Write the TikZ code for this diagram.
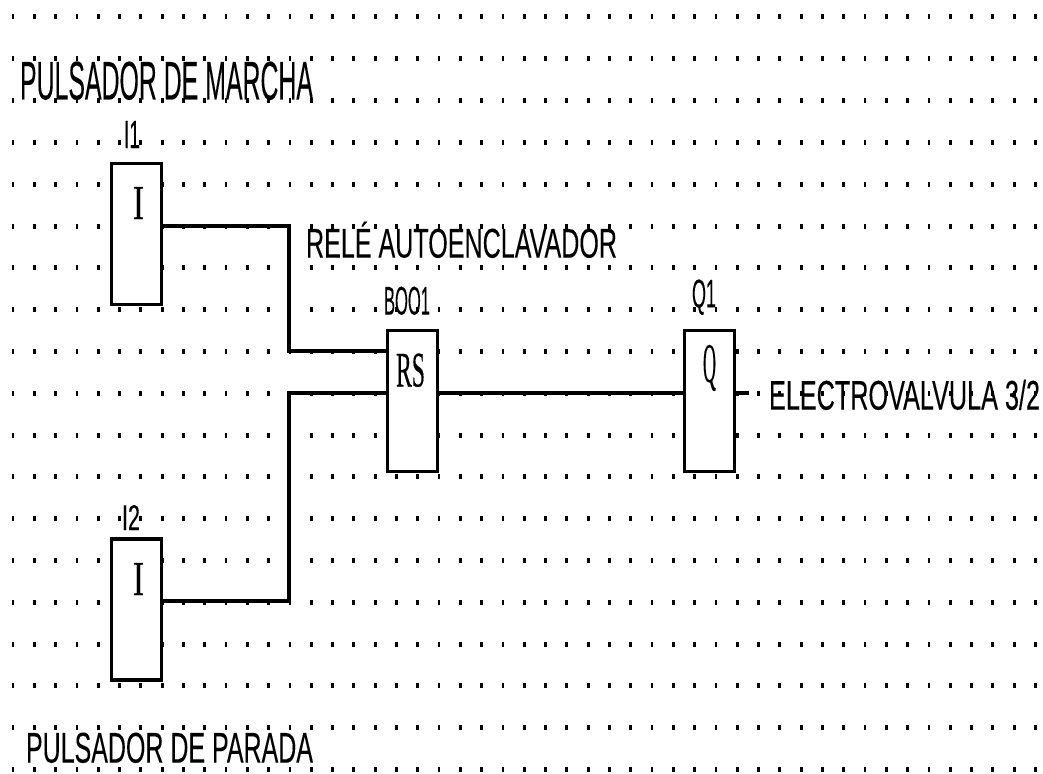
\documentclass[tikz,border=0pt]{standalone}
\usepackage{graphicx}
\usepackage{fontspec}
\setmainfont[FakeBold=0.25]{Liberation Sans}
\newfontfamily\blockfont[FakeBold=0.5]{Liberation Serif}
\tikzset{
  x=1pt,y=-1pt,
  block/.style={draw=black,fill=white,line width=2.4pt,minimum width=50pt,minimum height=141pt,inner sep=0pt,outer sep=0pt},
  blocklid/.style={line width=3.8pt,line cap=rect},
  wire/.style={draw=black,line width=3.6pt},
  lbl/.style={inner sep=0pt,outer sep=0pt,anchor=south west,text=black}
}
\newcommand{\fitted}[3]{\resizebox{#1pt}{#2pt}{#3}}
\begin{document}
\begin{tikzpicture}
\useasboundingbox (0,0) rectangle (1043,773);
\fill[white] (0,0) rectangle (1043,773);
% dot grid
\foreach \c in {0,...,48}{
  \foreach \r in {0,...,18}{
    \fill[black] ({13+21.3*\c-1.4},{17+41.8*\r-2.5}) rectangle ++(2.8,5);
  }
}
% blocks
\node[block] (i1) at (136.5,234) {};
\node[block] (i2) at (136.5,609.5) {};
\node[block] (rs) at (412.5,401) {};
\node[block] (q1) at (709.5,401) {};
\foreach \n in {i1,i2,rs,q1}{
  \draw[blocklid] (\n.north west) -- (\n.north east);
  \draw[blocklid] (\n.south west) -- (\n.south east);
}
% helper coordinates
\coordinate (a1) at (i1.east |- 0,226);
\coordinate (a2) at (289,226);
\coordinate (a3) at (289,351);
\coordinate (a4) at (rs.west |- 0,351);
\coordinate (b1) at (i2.east |- 0,601);
\coordinate (b2) at (289,601);
\coordinate (b3) at (289,393);
\coordinate (b4) at (rs.west |- 0,393);
\coordinate (c1) at (rs.east |- 0,393);
\coordinate (c2) at (q1.west |- 0,393);
\coordinate (d1) at (q1.east |- 0,393);
\coordinate (d2) at (749,393);
% connectors
\draw[wire] (a1) -- (a2) -- (a3) -- (a4);
\draw[wire] (b1) -- (b2) -- (b3) -- (b4);
\draw[wire] (c1) -- (c2);
\draw[wire] (d1) -- (d2);
% labels
\node[lbl] (t1) at (20,100) {\fitted{293}{38}{PULSADOR DE MARCHA}};
\node[lbl] (t2) at (124,148) {\fitted{16}{27}{I1}};
\node[lbl] (t3) at (306,258) {\fitted{311}{36}{RELÉ AUTOENCLAVADOR}};
\node[lbl] (t4) at (384,315) {\fitted{46}{28}{BOO1}};
\node[lbl] (t5) at (692,315) {\fitted{24}{28}{Q1}};
\node[lbl] (t6) at (122,530) {\fitted{18}{25}{I2}};
\node[lbl] (t7) at (769,410) {\fitted{271}{30}{ELECTROVALVULA 3/2}};
\node[lbl] (t8) at (26,763) {\fitted{287}{30}{PULSADOR DE PARADA}};
\node[lbl] (t9) at (133,219) {\fitted{11}{32}{\blockfont I}};
\node[lbl] (t10) at (133,595) {\fitted{11}{32}{\blockfont I}};
\node[lbl] (t11) at (396,387) {\fitted{29}{33}{\blockfont RS}};
\node[lbl] (t12) at (703,391) {\fitted{13}{37}{\blockfont Q}};
\end{tikzpicture}
\end{document}
